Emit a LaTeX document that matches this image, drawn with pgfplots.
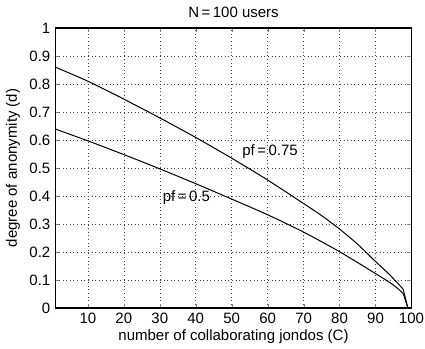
\documentclass[border=0pt]{standalone}
\usepackage{fontspec}
\setmainfont{Liberation Sans}
\usepackage{pgfplots}
\usepackage{pgfplotstable}
\pgfplotsset{compat=1.18}

% pf = 0.75
\pgfplotstableread{
x y
1    0.860
10   0.810
20   0.746
30   0.679
40   0.609
50   0.535
60   0.457
70   0.373
75   0.330
80   0.282
85   0.228
90   0.166
94   0.118
97.7 0.067
}\pfhigh
\pgfplotstableread{
x y
97.7 0.067
99   0.000
}\pfhighend

% pf = 0.5
\pgfplotstableread{
x y
1    0.639
10   0.597
20   0.548
30   0.497
40   0.444
50   0.389
60   0.333
70   0.271
80   0.201
90   0.123
95   0.082
97.7 0.052
}\pflow
\pgfplotstableread{
x y
97.7 0.052
99   0.000
}\pflowend

\newcommand{\lbl}{\fontsize{15}{18}\selectfont}

\begin{document}
\begin{tikzpicture}
% page = 425 x 348, axis box at (55.5,28)-(411.5,308) from top-left
\useasboundingbox (-55.5pt,-40pt) rectangle (369.5pt,308pt);
\begin{axis}[
    at={(0,0)}, anchor=south west,
    scale only axis,
    width=356pt, height=280pt,
    xmin=1, xmax=100, ymin=0, ymax=1,
    xtick={10,20,30,40,50,60,70,80,90,100},
    ytick={0,0.1,0.2,0.3,0.4,0.5,0.6,0.7,0.8,0.9,1},
    yticklabels={0,0.1,0.2,0.3,0.4,0.5,0.6,0.7,0.8,0.9,1},
    tick align=inside, tick pos=both,
    major tick length=4pt,
    grid=major,
    major grid style={black!75, line width=0.5pt, dash pattern=on 0.6pt off 3pt},
    axis line style={line width=1.2pt},
    /pgf/number format/assume math mode=true,
    tick label style={font=\lbl},
    xticklabel style={inner sep=0pt, anchor=north, yshift=-5pt},
    yticklabel style={inner sep=0pt, anchor=east, xshift=-5pt},
    title={N\,=\,100 users},
    title style={font=\lbl, at={(0.5,1)}, anchor=base, yshift=4pt},
    xlabel={number of collaborating jondos (C)},
    xlabel style={font=\lbl, at={(0.5,0)}, anchor=base, yshift=-32pt},
    ylabel={degree of anonymity (d)},
    ylabel style={font=\lbl, anchor=center, at={([xshift=-42.5pt]axis description cs:0,0.5)}},
]
\addplot[black, line width=1pt, smooth, tension=0.4] table {\pfhigh};
\addplot[black, line width=1pt] table {\pfhighend};
\addplot[black, line width=1pt, smooth, tension=0.4] table {\pflow};
\addplot[black, line width=1pt] table {\pflowend};
\node[anchor=west, font=\lbl, inner sep=0pt] at (axis cs:52.9,0.557) {pf\,=\,0.75};
\node[anchor=west, font=\lbl, inner sep=0pt] at (axis cs:30.8,0.393) {pf\,=\,0.5};
\end{axis}
\end{tikzpicture}
\end{document}
